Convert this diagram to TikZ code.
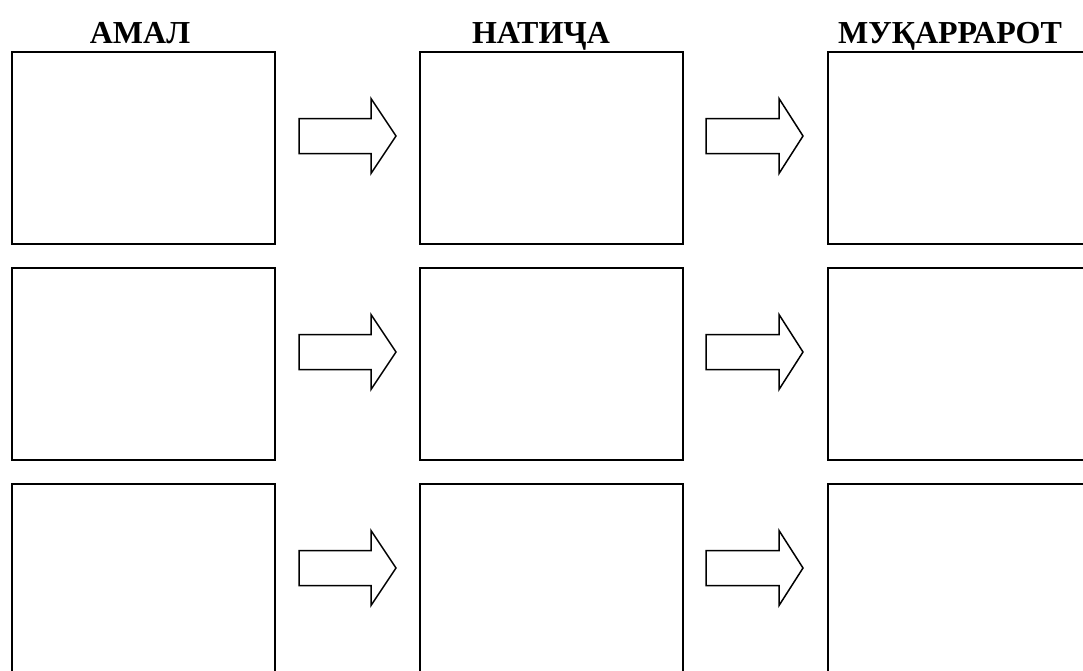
\documentclass[tikz,border=0pt]{standalone}
\usepackage{fontspec}
\setmainfont{Liberation Serif}
\begin{document}
\begin{tikzpicture}[x=1pt,y=-1pt,
		cell/.style={draw,line width=2pt,minimum width=263pt,minimum height=192pt,inner sep=0pt,anchor=north west},
		head/.style={font=\fontsize{32}{38}\selectfont\bfseries,anchor=base,inner sep=0pt},
		blockarrow/.style={draw,line width=1.5pt,line join=miter}]
	\useasboundingbox (0,0) rectangle (1083,670);
	\clip (0,0) rectangle (1083,670);
	\node[head] (hA) at (140,43) {АМАЛ};
	\node[head] (hN) at (541,43) {НАТИҶА};
	\node[head] (hM) at (950,43) {МУҚАРРАРОТ};
	\foreach \r in {1,2,3}{
		\node[cell] (a\r) at (11,{51+216*(\r-1)}) {};
		\node[cell] (n\r) at (419,{51+216*(\r-1)}) {};
		\node[cell] (m\r) at (827,{51+216*(\r-1)}) {};
		% block arrows between the columns
		\draw[blockarrow] ([xshift=23pt,yshift=29.5pt]a\r.east) -- ++(72,0) -- ++(0,-20)
			-- ++(25,37.5) -- ++(-25,37.5) -- ++(0,-20) -- ++(-72,0) -- cycle;
		\draw[blockarrow] ([xshift=22pt,yshift=29.5pt]n\r.east) -- ++(73,0) -- ++(0,-20)
			-- ++(24,37.5) -- ++(-24,37.5) -- ++(0,-20) -- ++(-73,0) -- cycle;
	}
\end{tikzpicture}
\end{document}
